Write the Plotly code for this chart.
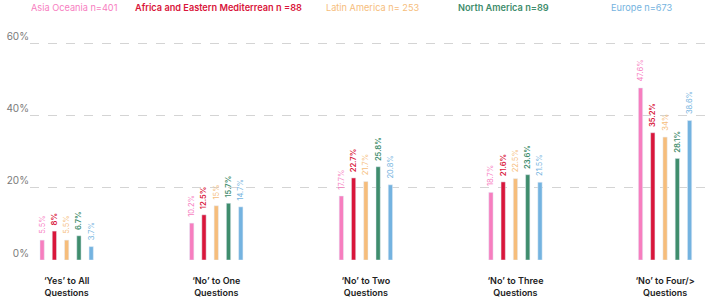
import plotly.graph_objects as go

categories = ["‘Yes’ to All<br>Questions", "‘No’ to One<br>Questions", "‘No’ to Two<br>Questions",
              "‘No’ to Three<br>Questions", "‘No’ to Four/><br>Questions"]
regions = ["Asia Oceania n=401", "Africa and Eastern Mediterrean n =88", "Latin America n= 253",
           "North America n=89", "Europe n=673"]
asia = [5.5, 10.2, 17.7, 18.7, 47.6]
africa = [8, 12.5, 22.7, 21.6, 35.2]
latam = [5.5, 15, 21.7, 22.5, 34]
namerica = [6.7, 15.7, 25.8, 23.6, 28.1]
europe = [3.7, 14.7, 20.8, 21.5, 38.6]
series = [asia, africa, latam, namerica, europe]
colors = ["#F77EBF", "#D9163B", "#F6BD7B", "#3F8D6D", "#74B3E0"]
bold = [False, True, False, True, False]
legend_x = [46, 198, 360, 497, 643]
yticks = [0, 20, 40, 60]

fig = go.Figure()
for name, vals, c, b in zip(regions, series, colors, bold):
    fig.add_trace(go.Bar(
        x=list(range(len(categories))), y=vals, name=name, marker_color=c,
        text=[f"\u00a0\u00a0\u00a0{v:g}%" for v in vals], textposition="outside", textangle=-90,
        constraintext="none",
        textfont=dict(color=c, size=7.5, family="Inter", weight=600 if b else 400),
        cliponaxis=False, showlegend=False,
    ))

for name, c, b, lx in zip(regions, colors, bold, legend_x):
    fig.add_annotation(x=lx / 709, y=1, xref="paper", yref="paper", yanchor="middle",
                       xanchor="center", showarrow=False, text=name,
                       font=dict(color=c, size=9.2, family="Inter", weight=600 if b else 400),
                       yshift=35)

fig.update_layout(
    width=709, height=297, margin=dict(l=30, r=4, t=42, b=37, autoexpand=False),
    plot_bgcolor="white", paper_bgcolor="white",
    barmode="group", bargap=0.59, bargroupgap=0.65,
    font=dict(family="Inter"),
)
fig.update_xaxes(range=[-0.245, 4.267], tickvals=list(range(len(categories))), ticktext=categories,
                 showgrid=False, zeroline=False, showline=False, ticks="",
                 ticklabelstandoff=14, automargin=False,
                 tickfont=dict(size=9, color="#222", family="Inter", weight=600))
fig.update_yaxes(range=[0, 60.3], tickvals=yticks, ticktext=[f"{t}%" for t in yticks],
                 showgrid=True, gridcolor="#d4d4d4", griddash="dash", gridwidth=1,
                 zeroline=False, showline=False, ticks="", automargin=False,
                 ticklabelposition="outside top",
                 tickfont=dict(size=10, color="#7a7a7a", family="Inter"))
fig.write_html("out.html")
